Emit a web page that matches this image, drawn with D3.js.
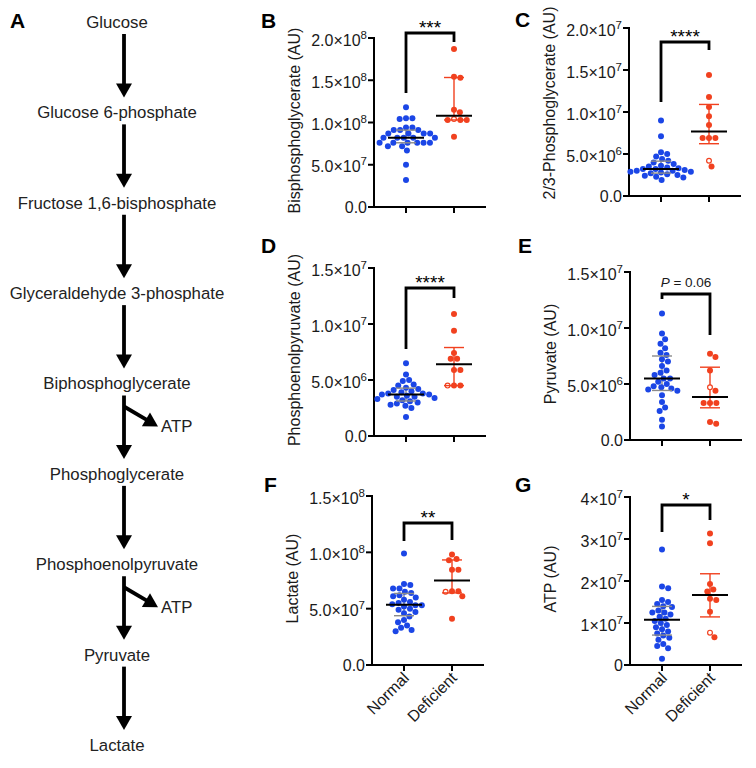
<!DOCTYPE html>
<html><head><meta charset="utf-8">
<script src="https://cdn.jsdelivr.net/npm/d3@7"></script>
<style>body{margin:0;background:#fff}svg{display:block}</style>
</head><body>
<svg id="c" width="756" height="768"></svg>
<script>
// ---------------- data ----------------
const groups = ["Normal", "Deficient"];
const pathwaySteps = ["Glucose", "Glucose 6-phosphate", "Fructose 1,6-bisphosphate", "Glyceraldehyde 3-phosphate",
  "Biphosphoglycerate", "Phosphoglycerate", "Phosphoenolpyruvate", "Pyruvate", "Lactate"];
const atpSteps = [4, 6];
const atpLabel = "ATP";

// B: Bisphosphoglycerate
const bpgNormal = [1.18e8, 1.05e8, 1.05e8, 1.04e8, 0.94e8, 0.94e8, 0.91e8, 0.91e8, 0.91e8, 0.87e8, 0.87e8, 0.87e8, 0.87e8,
  0.82e8, 0.82e8, 0.82e8, 0.82e8, 0.82e8, 0.76e8, 0.76e8, 0.76e8, 0.76e8, 0.76e8, 0.76e8, 0.72e8, 0.72e8, 0.67e8, 0.50e8, 0.32e8];
const bpgDeficient = [1.87e8, 1.54e8, 1.53e8, 1.15e8, 1.12e8, 1.04e8, 1.03e8, 1.03e8, 1.03e8, 0.83e8];
const bpgHollow = [5];
const bpgTicks = [0, 5e7, 1e8, 1.5e8, 2e8];
const bpgTickLabels = ["0.0", "5.0×10^7", "1.0×10^8", "1.5×10^8", "2.0×10^8"];

// C: 2/3-Phosphoglycerate
const pgNormal = [9.0e6, 7.1e6, 5.2e6, 5.0e6, 4.7e6, 4.4e6, 4.2e6, 4.0e6, 3.8e6, 3.6e6, 3.5e6, 3.4e6, 3.3e6, 3.2e6,
  3.2e6, 3.1e6, 3.0e6, 3.0e6, 2.9e6, 2.9e6, 2.8e6, 2.7e6, 2.6e6, 2.5e6, 2.4e6, 2.3e6, 2.2e6, 1.9e6];
const pgDeficient = [14.4e6, 11.8e6, 10.6e6, 9.5e6, 8.45e6, 6.9e6, 6.9e6, 6.9e6, 4.2e6, 3.5e6];
const pgHollow = [8];
const pgTicks = [0, 5e6, 1e7, 1.5e7, 2e7];
const pgTickLabels = ["0.0", "5.0×10^6", "1.0×10^7", "1.5×10^7", "2.0×10^7"];

// D: Phosphoenolpyruvate
const pepNormal = [6.5e6, 5.5e6, 5.0e6, 4.9e6, 4.6e6, 4.5e6, 4.3e6, 4.2e6, 4.1e6, 4.0e6, 3.9e6, 3.8e6, 3.8e6, 3.7e6,
  3.7e6, 3.6e6, 3.5e6, 3.5e6, 3.4e6, 3.3e6, 3.2e6, 3.1e6, 3.0e6, 2.9e6, 2.8e6, 2.7e6, 2.5e6, 1.7e6];
const pepDeficient = [10.9e6, 9.4e6, 7.4e6, 6.9e6, 6.9e6, 5.9e6, 5.9e6, 4.5e6, 4.5e6, 4.5e6];
const pepHollow = [9];
const pepTicks = [0, 5e6, 1e7, 1.5e7];
const pepTickLabels = ["0.0", "5.0×10^6", "1.0×10^7", "1.5×10^7"];

// E: Pyruvate
const pyrNormal = [11.3e6, 9.5e6, 9.0e6, 8.6e6, 8.2e6, 7.8e6, 7.6e6, 7.2e6, 7.0e6, 6.6e6, 6.2e6, 6.0e6, 5.8e6, 5.5e6,
  5.5e6, 5.2e6, 5.0e6, 4.8e6, 4.7e6, 4.6e6, 4.5e6, 4.4e6, 4.0e6, 3.4e6, 2.9e6, 2.6e6, 1.8e6, 1.2e6];
const pyrDeficient = [7.7e6, 7.4e6, 6.2e6, 4.7e6, 4.4e6, 3.3e6, 3.3e6, 3.3e6, 1.6e6, 1.45e6];
const pyrHollow = [3];
const pyrTicks = [0, 5e6, 1e7, 1.5e7];
const pyrTickLabels = ["0.0", "5.0×10^6", "1.0×10^7", "1.5×10^7"];

// F: Lactate
const lacNormal = [9.9e7, 7.2e7, 7.1e7, 6.8e7, 6.8e7, 6.5e7, 6.4e7, 6.2e7, 6.1e7, 6.0e7, 5.8e7, 5.6e7, 5.5e7, 5.4e7,
  5.3e7, 5.3e7, 5.2e7, 5.0e7, 4.9e7, 4.7e7, 4.6e7, 4.3e7, 4.0e7, 3.8e7, 3.5e7, 3.3e7, 3.1e7, 3.0e7];
const lacDeficient = [9.8e7, 9.4e7, 9.3e7, 8.45e7, 8.45e7, 6.55e7, 6.55e7, 6.5e7, 6.1e7, 4.1e7];
const lacHollow = [7];
const lacTicks = [0, 5e7, 1e8, 1.5e8];
const lacTickLabels = ["0.0", "5.0×10^7", "1.0×10^8", "1.5×10^8"];

// G: ATP
const atpNormal = [2.75e7, 1.87e7, 1.83e7, 1.55e7, 1.5e7, 1.45e7, 1.4e7, 1.38e7, 1.3e7, 1.25e7, 1.25e7, 1.2e7, 1.15e7, 1.1e7,
  1.05e7, 1.0e7, 0.95e7, 0.9e7, 0.85e7, 0.8e7, 0.75e7, 0.7e7, 0.65e7, 0.6e7, 0.5e7, 0.45e7, 0.4e7, 0.15e7];
const atpDeficient = [3.13e7, 2.9e7, 1.93e7, 1.8e7, 1.75e7, 1.58e7, 1.55e7, 1.27e7, 0.77e7, 0.66e7];
const atpHollow = [8];
const atpTicks = [0, 1e7, 2e7, 3e7, 4e7];
const atpTickLabels = ["0", "1×10^7", "2×10^7", "3×10^7", "4×10^7"];

const sigLabels = ["***", "****", "****", "P = 0.06", "**", "*"];

// ---------------- styles / layout ----------------
const FONT = "'Liberation Sans', Arial, Helvetica, sans-serif";
const BLUE = "#1b46e6", RED = "#f1411f", GRAY = "#8a8a8a", INK = "#1a1a1a";
const svg = d3.select("#c");
svg.append("rect").attr("width", 756).attr("height", 768).attr("fill", "#fff");

// ---- Panel A: pathway ----
svg.append("text").attr("x", 10).attr("y", 28).attr("font-family", FONT).attr("font-weight", "bold")
  .attr("font-size", 21).attr("fill", "#000").text("A");
const py = d3.scaleLinear().domain([0, pathwaySteps.length - 1]).range([22, 745]);
const pathX = 117, arrowX = 124;
const gA = svg.append("g");
gA.selectAll("text.step").data(pathwaySteps).join("text").attr("class", "step")
  .attr("x", pathX).attr("y", (d, i) => py(i)).attr("dy", "0.35em").attr("text-anchor", "middle")
  .attr("font-family", FONT).attr("font-size", 16.8).attr("fill", "#222").text(d => d);

function arrow(g, x1, y1, x2, y2) {
  const dx = x2 - x1, dy = y2 - y1, L = Math.hypot(dx, dy), ux = dx / L, uy = dy / L;
  const hl = 14, hw = 8;
  g.append("line").attr("x1", x1).attr("y1", y1).attr("x2", x2 - ux * (hl - 1)).attr("y2", y2 - uy * (hl - 1))
    .attr("stroke", "#000").attr("stroke-width", 3.8);
  const bx = x2 - ux * hl, by = y2 - uy * hl;
  g.append("path").attr("d", `M${x2},${y2}L${bx - uy * hw},${by + ux * hw}L${bx + uy * hw},${by - ux * hw}Z`).attr("fill", "#000");
}
d3.range(pathwaySteps.length - 1).forEach(i => {
  const y1 = py(i) + 12, y2 = py(i + 1) - 15;
  arrow(gA, arrowX, y1, arrowX, y2);
  if (atpSteps.includes(i)) {
    arrow(gA, arrowX, y1 + 11, arrowX + 34, y1 + 31);
    gA.append("text").attr("x", arrowX + 37).attr("y", y1 + 31).attr("dy", "0.35em")
      .attr("font-family", FONT).attr("font-size", 16.8).attr("fill", "#222").text(atpLabel);
  }
});

// ---- scatter panels ----
const panels = [
  { letter: "B", title: "Bisphosphoglycerate (AU)", normal: bpgNormal, deficient: bpgDeficient, hollow: bpgHollow,
    ticks: bpgTicks, labels: bpgTickLabels, sig: sigLabels[0], ax: 374, top: 38, bottom: 207,
    brTop: 33, brL: 93, brR: 42, lx: 261, ly: 28, tdy: -2, xl: false },
  { letter: "C", title: "2/3-Phosphoglycerate (AU)", normal: pgNormal, deficient: pgDeficient, hollow: pgHollow,
    ticks: pgTicks, labels: pgTickLabels, sig: sigLabels[1], ax: 629, top: 28, bottom: 196,
    brTop: 42, brL: 102, brR: 50, lx: 515, ly: 27, tdy: -9, xl: false },
  { letter: "D", title: "Phosphoenolpyruvate (AU)", normal: pepNormal, deficient: pepDeficient, hollow: pepHollow,
    ticks: pepTicks, labels: pepTickLabels, sig: sigLabels[2], ax: 374, top: 268, bottom: 436,
    brTop: 288, brL: 349, brR: 298, lx: 261, ly: 253, tdy: -2, xl: false },
  { letter: "E", title: "Pyruvate (AU)", normal: pyrNormal, deficient: pyrDeficient, hollow: pyrHollow,
    ticks: pyrTicks, labels: pyrTickLabels, sig: sigLabels[3], ax: 630, top: 272, bottom: 440,
    brTop: 294, brL: 299, brR: 335, lx: 518, ly: 253, tdy: -2, xl: false },
  { letter: "F", title: "Lactate (AU)", normal: lacNormal, deficient: lacDeficient, hollow: lacHollow,
    ticks: lacTicks, labels: lacTickLabels, sig: sigLabels[4], ax: 372, top: 496, bottom: 665,
    brTop: 523, brL: 541, brR: 540, lx: 264, ly: 492, tdy: -2, xl: true },
  { letter: "G", title: "ATP (AU)", normal: atpNormal, deficient: atpDeficient, hollow: atpHollow,
    ticks: atpTicks, labels: atpTickLabels, sig: sigLabels[5], ax: 630, top: 497, bottom: 665,
    brTop: 505, brL: 532, brR: 520, lx: 515, ly: 492, tdy: -2, xl: true }
];

function quant(sorted, p) { // GraphPad-style (n+1)p
  const n = sorted.length, pos = (n + 1) * p;
  if (pos <= 1) return sorted[0];
  if (pos >= n) return sorted[n - 1];
  const lo = Math.floor(pos), f = pos - lo;
  return sorted[lo - 1] + f * (sorted[lo] - sorted[lo - 1]);
}

function swarm(vals, y, cx, r) {
  const d = 2 * r + 0.4;
  const pts = vals.map((v, i) => ({ v, i, y: y(v), x: cx }));
  const order = pts.slice().sort((a, b) => a.y - b.y);
  const placed = [];
  order.forEach(p => {
    const cands = [cx];
    placed.forEach(q => {
      const dy = Math.abs(q.y - p.y);
      if (dy < d) { const w = Math.sqrt(d * d - dy * dy); cands.push(q.x + w, q.x - w); }
    });
    cands.sort((a, b) => Math.abs(a - cx) - Math.abs(b - cx));
    for (const c of cands) {
      if (placed.every(q => Math.hypot(q.x - c, q.y - p.y) >= d - 0.01)) { p.x = c; break; }
    }
    placed.push(p);
  });
  return pts;
}

const R = 3;
panels.forEach(P => {
  const g = svg.append("g");
  const y = d3.scaleLinear().domain([0, P.ticks[P.ticks.length - 1]]).range([P.bottom, P.top]);
  const x = d3.scalePoint().domain(groups).range([P.ax, P.ax + 112]).padding(2 / 3);
  // letter
  g.append("text").attr("x", P.lx).attr("y", P.ly).attr("font-family", FONT).attr("font-weight", "bold")
    .attr("font-size", 21).attr("fill", "#000").text(P.letter);
  // y title
  g.append("text").attr("transform", `translate(${P.ax - 80},${(P.top + P.bottom) / 2 + P.tdy}) rotate(-90)`)
    .attr("dy", "0.35em").attr("text-anchor", "middle").attr("font-family", FONT).attr("font-size", 16)
    .attr("fill", INK).text(P.title);
  // axes
  g.append("line").attr("x1", P.ax).attr("x2", P.ax).attr("y1", P.top - 1).attr("y2", P.bottom + 1)
    .attr("stroke", "#000").attr("stroke-width", 2);
  g.append("line").attr("x1", P.ax - 1).attr("x2", P.ax + 112).attr("y1", P.bottom).attr("y2", P.bottom)
    .attr("stroke", "#000").attr("stroke-width", 2);
  P.ticks.forEach((t, i) => {
    g.append("line").attr("x1", P.ax - 6).attr("x2", P.ax).attr("y1", y(t)).attr("y2", y(t))
      .attr("stroke", "#000").attr("stroke-width", 2);
    const [base, exp] = P.labels[i].split("^");
    const tx = g.append("text").attr("x", P.ax - 7).attr("y", y(t) + (exp ? 7.5 : 5.6)).attr("text-anchor", "end")
      .attr("font-family", FONT).attr("font-size", 16).attr("fill", INK).text(base);
    if (exp) tx.append("tspan").attr("dy", -7).attr("font-size", 11.5).text(exp);
  });
  groups.forEach(gr => {
    g.append("line").attr("x1", x(gr)).attr("x2", x(gr)).attr("y1", P.bottom).attr("y2", P.bottom + 6)
      .attr("stroke", "#000").attr("stroke-width", 2);
    if (P.xl) {
      g.append("text").attr("transform", `translate(${x(gr) + 2},${P.bottom + 10}) rotate(-45)`)
        .attr("dy", "0.35em").attr("text-anchor", "end").attr("font-family", FONT).attr("font-size", 16)
        .attr("fill", INK).text(gr);
    }
  });
  // groups data
  [[P.normal, groups[0], BLUE, GRAY, []], [P.deficient, groups[1], RED, RED, P.hollow]].forEach(([vals, gr, col, ebCol, hollow]) => {
    const s = vals.slice().sort(d3.ascending);
    const med = quant(s, 0.5), q1 = quant(s, 0.25), q3 = quant(s, 0.75);
    const cx = x(gr);
    g.append("line").attr("x1", cx).attr("x2", cx).attr("y1", y(q1)).attr("y2", y(q3))
      .attr("stroke", ebCol).attr("stroke-width", 1.4);
    const pts = swarm(vals, y, cx, R);
    g.selectAll(null).data(pts).join("circle")
      .attr("cx", d => d.x).attr("cy", d => d.y)
      .attr("r", d => hollow.includes(d.i) ? R - 0.6 : R)
      .attr("fill", d => hollow.includes(d.i) ? "#fff" : col)
      .attr("stroke", d => hollow.includes(d.i) ? col : "none")
      .attr("stroke-width", 1.2);
    [q1, q3].forEach(q => g.append("line").attr("x1", cx - 10).attr("x2", cx + 10).attr("y1", y(q)).attr("y2", y(q))
      .attr("stroke", ebCol).attr("stroke-width", 1.4));
    g.append("line").attr("x1", cx - 18).attr("x2", cx + 18).attr("y1", y(med)).attr("y2", y(med))
      .attr("stroke", "#000").attr("stroke-width", 2);
  });
  // bracket
  const xL = x(groups[0]), xR = x(groups[1]);
  g.append("path").attr("d", `M${xL},${P.brL}V${P.brTop}H${xR}V${P.brR}`).attr("fill", "none")
    .attr("stroke", "#000").attr("stroke-width", 2.8);
  if (P.sig.startsWith("P")) {
    const t = g.append("text").attr("x", (xL + xR) / 2).attr("y", P.brTop - 7.5).attr("text-anchor", "middle")
      .attr("font-family", FONT).attr("font-size", 13.5).attr("fill", INK);
    t.append("tspan").attr("font-style", "italic").text("P");
    t.append("tspan").text(P.sig.slice(1));
  } else {
    g.append("text").attr("x", (xL + xR) / 2).attr("y", P.brTop + 0.5).attr("text-anchor", "middle")
      .attr("font-family", FONT).attr("font-size", 19).attr("fill", "#000").text(P.sig);
  }
});
</script>
</body></html>
